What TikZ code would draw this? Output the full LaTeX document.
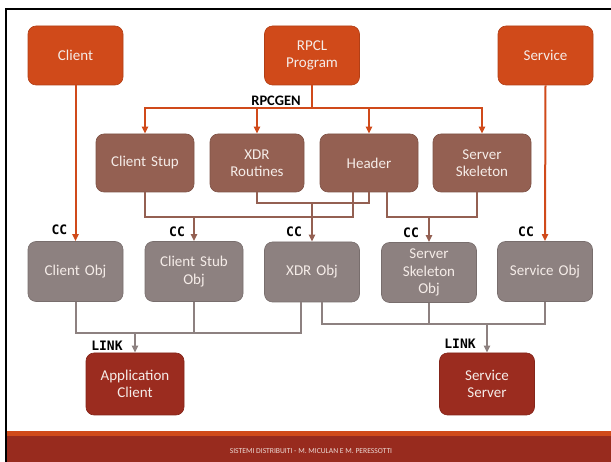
\documentclass[tikz,border=0pt]{standalone}
\usepackage{fontspec}
\setmainfont{Carlito}
\newfontfamily\ccfont{DejaVu Sans Mono}
\usetikzlibrary{arrows.meta}
\definecolor{cOrange}{RGB}{208,74,26}
\definecolor{cBrown}{RGB}{148,96,82}
\definecolor{cGray}{RGB}{141,129,128}
\definecolor{cDark}{RGB}{155,44,31}
\definecolor{cFoot}{RGB}{152,43,30}
\definecolor{cText}{RGB}{245,236,232}
\tikzset{
  box/.style={rounded corners=8pt, minimum width=95pt, text width=90pt, align=center,
    text=cText, font=\fontsize{15}{17.5}\selectfont, inner sep=0pt, line width=0.6pt},
  obox/.style={box, fill=cOrange, draw=cOrange!85!black, minimum height=59pt},
  bbox/.style={box, fill=cBrown, draw=cBrown!85!black, minimum height=58pt},
  gbox/.style={box, fill=cGray, draw=cGray!85!black, minimum height=60pt},
  dbox/.style={box, fill=cDark, draw=cDark!85!black, minimum height=62pt},
  oline/.style={draw=cOrange, line width=2pt},
  bline/.style={draw=cBrown, line width=2pt},
  gline/.style={draw=cGray, line width=2pt},
  tip/.style={-{Triangle[length=7pt,width=6pt]}},
  lbl/.style={font=\ccfont\bfseries\fontsize{13}{13}\selectfont, inner sep=0pt, text=black},
}
\begin{document}
\begin{tikzpicture}[x=1pt,y=-1pt]
\useasboundingbox (0,0) rectangle (611,462);
% footer
\fill[cOrange] (5,431) rectangle (611,436);
\fill[cFoot] (5,436) rectangle (611,462);
\node[font=\fontsize{7.6}{9}\selectfont, text=cText!90!cFoot, inner sep=0pt] (foot) at (311,451) {SISTEMI DISTRIBUITI - M. MICULAN E M. PERESSOTTI};
% frame
\draw[line width=2pt] (6,462) -- (6,9) -- (611,9);

% row 1
\node[obox] (client) at (75.5,55.5) {Client};
\node[obox] (rpcl) at (312,55.5) {RPCL\\Program};
\node[obox] (service) at (545.5,55.5) {Service};
% row 2
\node[bbox, minimum width=98pt] (cstup) at (145,163) {Client Stup};
\node[bbox, minimum width=94pt] (xdrr) at (257,163) {XDR\\Routines};
\node[bbox, minimum width=98pt] (header) at (369,163) {Header};
\node[bbox, minimum width=98pt] (sskel) at (482,163) {Server\\Skeleton};
% row 3
\node[gbox] (cobj) at (75.5,271.5) {Client Obj};
\node[gbox, minimum width=98pt] (csobj) at (194,271.5) {Client Stub\\Obj};
\node[gbox] (xdrobj) at (312,272) {XDR Obj};
\node[gbox] (ssobj) at (429,272.5) {Server\\Skeleton\\Obj};
\node[gbox] (sobj) at (545,271.5) {Service Obj};
% row 4
\node[dbox, minimum width=98pt] (appc) at (135,384) {Application\\Client};
\node[dbox] (ssrv) at (487,384) {Service\\Server};

% RPCGEN fan-out
\draw[oline] (rpcl.south) -- (312,108) coordinate (bus);
\node[font=\bfseries\fontsize{14.5}{16}\selectfont, inner sep=0pt] (rpcgen) at (276,101) {RPCGEN};
\draw[oline, tip] (bus) -| (cstup.north);
\draw[oline, tip] (bus) -| (xdrr.north);
\draw[oline, tip] (bus) -| (header.north);
\draw[oline, tip] (bus) -| (sskel.north);

% orange direct
\draw[oline, tip] (client.south) -- (cobj.north);
\draw[oline, tip] (service.south) -- (sobj.north);

% brown compile connections
\coordinate (h1) at ([xshift=-16pt]header.south);
\coordinate (h3) at ([xshift=18pt]header.south);
\coordinate (s1) at ([xshift=-5pt]sskel.south);
\draw[bline] (cstup.south) |- (194,217.5) coordinate (j1) -| (h1);
\draw[bline] (xdrr.south) |- (312,203) coordinate (j2) -| (header.south);
\draw[bline] (h3) |- (429,217.5) coordinate (j3) -| (s1);
\draw[bline, tip] (j1) -- (csobj.north);
\draw[bline, tip] (j2) -- (xdrobj.north);
\draw[bline, tip] (j3) -- (ssobj.north);

% gray link connections
\coordinate (x1) at ([xshift=-11pt]xdrobj.south);
\coordinate (x2) at ([xshift=10pt]xdrobj.south);
\draw[gline] (cobj.south) |- (135,333.5) coordinate (k1) -| (x1);
\draw[gline] (csobj.south) -- (csobj.south |- k1);
\draw[gline] (x2) |- (487,324) coordinate (k2) -| (sobj.south);
\draw[gline] (ssobj.south) -- (ssobj.south |- k2);
\draw[gline, tip] (k1) -- (appc.north);
\draw[gline, tip] (k2) -- (ssrv.north);

% labels
\node[lbl] (cc1) at (59.5,230) {CC};
\node[lbl] (cc2) at (177,232) {CC};
\node[lbl] (cc3) at (294,232) {CC};
\node[lbl] (cc4) at (411,233) {CC};
\node[lbl] (cc5) at (526,232) {CC};
\node[lbl] (link1) at (107,346) {LINK};
\node[lbl] (link2) at (460,344) {LINK};
\end{tikzpicture}
\end{document}
